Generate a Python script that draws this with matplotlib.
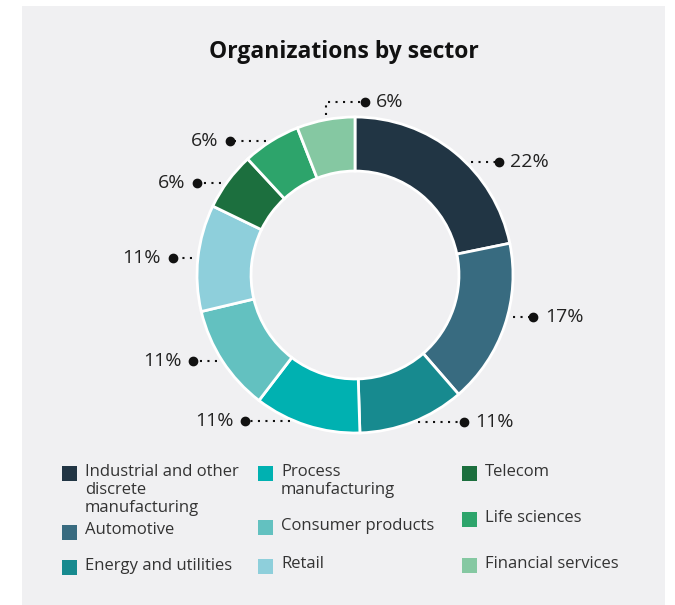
import numpy as np
import matplotlib.pyplot as plt
from matplotlib.patches import Rectangle

plt.rcParams['font.family'] = ['Open Sans', 'DejaVu Sans']

# data
sectors = ["Industrial and other\ndiscrete\nmanufacturing", "Automotive", "Energy and utilities",
           "Process\nmanufacturing", "Consumer products", "Retail",
           "Telecom", "Life sciences", "Financial services"]
shares = [22, 17, 11, 11, 11, 11, 6, 6, 6]
colors = ["#213544", "#386b80", "#178a8f", "#00b1b1", "#63c1c0",
          "#8ecfdb", "#1c6f3e", "#2da46b", "#85c8a2"]

# label layout tweaks (axes units, radius = 1)
label_dy = [-0.057, 0.057, 0, 0.025, 0, 0, -0.013, 0, 0]
elbow = [False] * 8 + [True]

W, H = 675, 605
fig = plt.figure(figsize=(W / 100, H / 100), dpi=100, facecolor="white")
fig.patches.append(Rectangle((22 / W, 0), (665 - 22) / W, 1 - 6 / H,
                             transform=fig.transFigure, facecolor="#f0f0f2",
                             edgecolor="none", zorder=-1))

fig.text(344 / W, 1 - 52 / H, "Organizations by sector", ha="center", va="center",
         fontsize=16.5, fontweight="bold", color="#111111")

# donut: center at (355, 275) px, outer radius 158 px
pu = 158
half = 1.6
ax = fig.add_axes([(355 - half * pu) / W, (H - 275 - half * pu) / H,
                   2 * half * pu / W, 2 * half * pu / H])

wedges, _ = ax.pie(shares, colors=colors, startangle=90, counterclock=False, radius=1,
                   wedgeprops=dict(width=0.342, edgecolor="white", linewidth=2))
ax.set_xlim(-half, half)
ax.set_ylim(-half, half)
ax.set_aspect("equal")
ax.axis("off")

r_dot = 1.158
gap = 0.035
dot_style = dict(color="#111111", linestyle=(0, (1, 2.6)), linewidth=1.5)
for w, val, dy, elb in zip(wedges, shares, label_dy, elbow):
    mid = np.deg2rad((w.theta1 + w.theta2) / 2)
    txt = "{}%".format(val)
    if elb:
        x0 = np.cos(mid)
        y0 = np.sin(mid) + 0.03
        ytop = 1.095
        xd = x0 + 0.25
        ax.plot([x0, x0, xd], [y0, ytop, ytop], **dot_style)
        ax.plot(xd, ytop, "o", color="#111111", markersize=6)
        ax.text(xd + 0.065, ytop, txt, ha="left", va="center", fontsize=14, color="#222222")
        continue
    y = np.sin(mid) + dy
    side = 1 if np.cos(mid) >= 0 else -1
    x_edge = side * (np.sqrt(max(1 - y ** 2, 0)) + gap)
    xd = side * np.sqrt(r_dot ** 2 - y ** 2)
    ax.plot([x_edge, xd], [y, y], **dot_style)
    ax.plot(xd, y, "o", color="#111111", markersize=6)
    ax.text(xd + side * 0.075, y, txt, ha="left" if side > 0 else "right", va="center",
            fontsize=14, color="#222222")

# legend, three columns
col_x = [62, 258, 462]
row_y = [473, 532, 567, 473, 527, 566, 473, 519, 565]
line_h = 18.5
sq = 15
for i, (name, c) in enumerate(zip(sectors, colors)):
    x = col_x[i // 3]
    y = row_y[i]
    fig.patches.append(Rectangle((x / W, 1 - (y + sq / 2) / H), sq / W, sq / H,
                                 transform=fig.transFigure, facecolor=c, edgecolor="none"))
    for j, line in enumerate(name.split("\n")):
        fig.text((x + 23) / W, 1 - (y - 1.5 + j * line_h) / H, line, ha="left", va="center",
                 fontsize=12, color="#333333")

fig.savefig("out.png", dpi=100, facecolor=fig.get_facecolor())
